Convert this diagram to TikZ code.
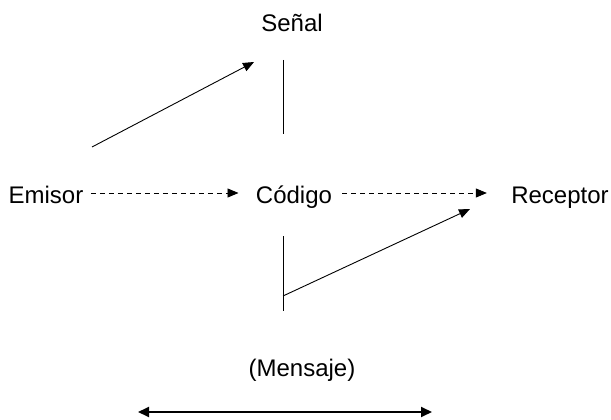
\documentclass[tikz,border=0pt]{standalone}
\usepackage{fontspec}
\setmainfont{Liberation Sans}
\usetikzlibrary{arrows.meta}
\tikzstyle{every node}=[font=\fontsize{24}{28}\selectfont, inner sep=2pt, text height=24pt, text depth=4pt]
\tikzstyle{flecha}=[-{Triangle[length=11pt,width=9pt]}]
\tikzstyle{punteada}=[flecha, dash pattern=on 5pt off 4pt]

\begin{document}
\begin{tikzpicture}[x=1pt, y=-1pt, line width=0.9pt, black]
\useasboundingbox (0,0) rectangle (611,420);
% Elementos
    \node[anchor=base] (senal) at (292,32) {Señal};
    \node[anchor=base] (emisor) at (46,203) {Emisor};
    \node[anchor=base] (codigo) at (294,203) {Código};
    \node[anchor=base] (receptor) at (560,203) {Receptor};
    \node[anchor=base] (mensaje) at (302,376) {(Mensaje)};
% Puntos libres
    \coordinate (ladoA) at (92,147);
    \coordinate (ladoB) at (254,62);
    \coordinate (arribaA) at (283,60);
    \coordinate (arribaB) at (283,134);
    \coordinate (abajoA) at (283,236);
    \coordinate (abajoB) at (283,311);
    \coordinate (codoA) at (283,296);
    \coordinate (codoB) at (470,209);
    \coordinate (dobleA) at (138,412);
    \coordinate (dobleB) at (432,412);
% Flechas punteadas
    \draw[punteada, shorten <=5pt, shorten >=15pt] (emisor) -- (codigo);
    \draw[punteada, shorten <=8pt, shorten >=22pt] (codigo) -- (receptor);
% Lineas
    \draw[flecha] (ladoA) -- (ladoB);
    \draw (arribaA) -- (arribaB);
    \draw (abajoA) -- (abajoB);
    \draw[flecha] (codoA) -- (codoB);
    \draw[{Triangle[length=11pt,width=10pt]}-{Triangle[length=11pt,width=10pt]}, line width=1.8pt] (dobleA) -- (dobleB);
\end{tikzpicture}
\end{document}
